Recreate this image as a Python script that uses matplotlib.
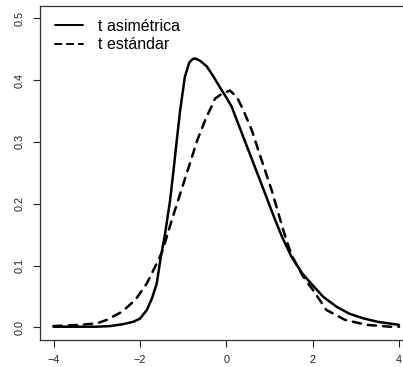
import matplotlib
matplotlib.use("Agg")
import matplotlib.pyplot as plt

# Skewed t density (solid)
x_skew = [-4.0, -3.5, -3.0, -2.69, -2.4, -2.15, -2.0, -1.84, -1.72, -1.61,
          -1.52, -1.42, -1.30, -1.22, -1.15, -1.07, -0.96, -0.86, -0.78, -0.72,
          -0.60, -0.45, -0.30, -0.11, 0.0, 0.125, 0.30, 0.51, 0.78, 1.13,
          1.30, 1.51, 1.75, 2.0, 2.25, 2.56, 2.85, 3.17, 3.5, 4.0]
y_skew = [0.001, 0.001, 0.001, 0.002, 0.005, 0.009, 0.014, 0.028, 0.047, 0.071,
          0.112, 0.150, 0.206, 0.255, 0.300, 0.350, 0.405, 0.428, 0.434, 0.435,
          0.431, 0.422, 0.406, 0.384, 0.372, 0.357, 0.325, 0.287, 0.238, 0.174,
          0.145, 0.114, 0.088, 0.068, 0.049, 0.033, 0.022, 0.0146, 0.009, 0.004]

# Standard t density (dashed)
x_std = [-4.0, -3.39, -2.99, -2.77, -2.42, -2.11, -1.84, -1.57, -1.47, -1.26,
         -0.99, -0.67, -0.49, -0.26, -0.10, 0.085, 0.25, 0.39, 0.59, 0.74,
         1.05, 1.32, 1.47, 1.55, 1.78, 2.01, 2.32, 2.75, 3.25, 3.79, 4.0]
y_std = [0.002, 0.004, 0.0065, 0.012, 0.025, 0.044, 0.071, 0.109, 0.125, 0.174,
         0.233, 0.303, 0.335, 0.370, 0.378, 0.383, 0.372, 0.352, 0.319, 0.287,
         0.222, 0.157, 0.125, 0.112, 0.082, 0.060, 0.028, 0.012, 0.004, 0.001, 0.001]

x_ticks = [-4, -2, 0, 2, 4]
y_ticks = [0.0, 0.1, 0.2, 0.3, 0.4, 0.5]
labels = ["t asimétrica", "t estándar"]

plt.rcParams["font.family"] = ["Liberation Sans", "DejaVu Sans"]

fig = plt.figure(figsize=(4.03, 3.67), dpi=100)
ax = fig.add_axes([0.0985, 0.0744, 0.926, 0.9095])

ax.plot(x_skew, y_skew, color="black", lw=1.8, solid_capstyle="round",
        solid_joinstyle="round", label=labels[0])
ax.plot(x_std, y_std, color="black", lw=1.8, linestyle=(0, (3.3, 2.8)),
        dash_capstyle="round", label=labels[1])

ax.set_xlim(-4.32, 4.32)
ax.set_ylim(-0.02, 0.52)
ax.set_xticks(x_ticks)
ax.set_xticklabels(["\u22124", "\u22122", "0", "2", "4"])
ax.set_yticks(y_ticks)
ax.set_yticklabels(["0.0", "0.1", "0.2", "0.3", "0.4", "0.5"], rotation=90,
                   va="center")
ax.tick_params(axis="both", direction="out", length=5, width=0.8,
               labelsize=7.8, pad=6, color="#222222", labelcolor="#222222")

for side in ax.spines.values():
    side.set_linewidth(0.9)
    side.set_color("#333333")

# legend handles: solid and dashed lines, drawn thinner than the curves
leg = ax.legend(loc="upper left", frameon=False, fontsize=11.5,
                handlelength=1.75, handletextpad=0.95, labelspacing=0.22,
                borderaxespad=0.0, borderpad=0.0,
                bbox_to_anchor=(0.041, 0.961))
for line in leg.get_lines():
    line.set_linewidth(1.4)

fig.savefig("out.png", dpi=100)
